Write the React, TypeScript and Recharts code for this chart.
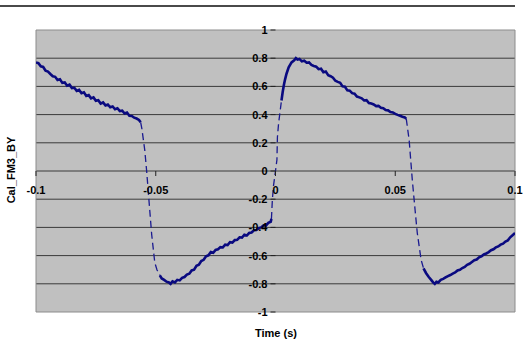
import React from "react";
import {
  LineChart,
  Line,
  XAxis,
  YAxis,
  CartesianGrid,
  ReferenceArea,
} from "recharts";

// ---- data (time in s, value) ----
const X_TICKS = [-0.1, -0.05, 0, 0.05, 0.1];
const X_TICK_LABELS = ["-0.1", "-0.05", "0", "0.05", "0.1"];
const Y_TICKS = [-1, -0.8, -0.6, -0.4, -0.2, 0, 0.2, 0.4, 0.6, 0.8, 1];
const Y_TICK_LABELS = ["-1", "-0.8", "-0.6", "-0.4", "-0.2", "0", "0.2", "0.4", "0.6", "0.8", "1"];
const GRID_VALUES = [-0.8, -0.6, -0.4, -0.2, 0, 0.2, 0.4, 0.6, 0.8];

const plateau1: [number, number][] = [
  [-0.1, 0.77], [-0.099, 0.765], [-0.098, 0.742], [-0.097, 0.738], [-0.096, 0.712],
  [-0.095, 0.705], [-0.094, 0.688], [-0.093, 0.672], [-0.092, 0.668], [-0.091, 0.645],
  [-0.09, 0.65], [-0.089, 0.625], [-0.088, 0.628], [-0.087, 0.605], [-0.086, 0.612],
  [-0.085, 0.588], [-0.084, 0.59], [-0.083, 0.568], [-0.082, 0.575], [-0.081, 0.552],
  [-0.08, 0.558], [-0.079, 0.532], [-0.078, 0.538], [-0.077, 0.515], [-0.076, 0.522],
  [-0.075, 0.498], [-0.074, 0.502], [-0.073, 0.478], [-0.072, 0.486], [-0.071, 0.465],
  [-0.07, 0.472], [-0.069, 0.452], [-0.068, 0.458], [-0.067, 0.438], [-0.066, 0.445],
  [-0.065, 0.425], [-0.064, 0.428], [-0.063, 0.408], [-0.062, 0.415], [-0.061, 0.392],
  [-0.06, 0.39], [-0.059, 0.378], [-0.058, 0.372], [-0.057, 0.362], [-0.0563, 0.345],
];
const fall1: [number, number][] = [
  [-0.0563, 0.345], [-0.0558, 0.3], [-0.0546, 0.15], [-0.0538, 0], [-0.0525, -0.28],
  [-0.0517, -0.45], [-0.0504, -0.65], [-0.0495, -0.7], [-0.0483, -0.74],
];
const trough1: [number, number][] = [
  [-0.0483, -0.74], [-0.0475, -0.762], [-0.0465, -0.772], [-0.0455, -0.785], [-0.0445, -0.79],
  [-0.0438, -0.8], [-0.043, -0.782], [-0.042, -0.79], [-0.041, -0.772], [-0.04, -0.776],
  [-0.039, -0.758], [-0.038, -0.752], [-0.037, -0.735], [-0.036, -0.728], [-0.035, -0.705],
  [-0.034, -0.7], [-0.033, -0.672], [-0.032, -0.665], [-0.031, -0.638], [-0.03, -0.63],
  [-0.029, -0.605], [-0.028, -0.598], [-0.027, -0.575], [-0.026, -0.58], [-0.025, -0.56],
  [-0.024, -0.555], [-0.023, -0.54], [-0.022, -0.542], [-0.021, -0.522], [-0.02, -0.525],
  [-0.019, -0.505], [-0.018, -0.508], [-0.017, -0.49], [-0.016, -0.488], [-0.015, -0.47],
  [-0.014, -0.472], [-0.013, -0.452], [-0.012, -0.458], [-0.011, -0.44], [-0.01, -0.436],
  [-0.009, -0.42], [-0.008, -0.418], [-0.007, -0.405], [-0.006, -0.4], [-0.005, -0.385],
  [-0.004, -0.388], [-0.003, -0.368], [-0.002, -0.36], [-0.0017, -0.34],
];
const rise1: [number, number][] = [
  [-0.0017, -0.34], [-0.0013, -0.2], [-0.0008, -0.1], [0, 0], [0.0006, 0.08],
  [0.0008, 0.24], [0.0013, 0.34], [0.0025, 0.5],
];
const plateau2: [number, number][] = [
  [0.0025, 0.5], [0.003, 0.56], [0.0035, 0.61], [0.004, 0.65], [0.0046, 0.69],
  [0.0055, 0.735], [0.0067, 0.77], [0.0078, 0.785], [0.0085, 0.8], [0.0092, 0.79],
  [0.01, 0.795], [0.011, 0.778], [0.012, 0.782], [0.013, 0.768], [0.014, 0.77],
  [0.015, 0.752], [0.016, 0.745], [0.017, 0.74], [0.018, 0.722], [0.019, 0.725],
  [0.02, 0.7], [0.021, 0.705], [0.022, 0.68], [0.023, 0.672], [0.024, 0.662],
  [0.025, 0.64], [0.026, 0.632], [0.027, 0.625], [0.028, 0.6], [0.029, 0.598],
  [0.03, 0.572], [0.031, 0.57], [0.032, 0.552], [0.033, 0.548], [0.034, 0.528],
  [0.035, 0.522], [0.036, 0.515], [0.037, 0.5], [0.038, 0.502], [0.039, 0.482],
  [0.04, 0.478], [0.041, 0.472], [0.042, 0.46], [0.043, 0.462], [0.044, 0.448],
  [0.045, 0.445], [0.046, 0.432], [0.047, 0.43], [0.048, 0.418], [0.049, 0.415],
  [0.05, 0.405], [0.051, 0.398], [0.052, 0.392], [0.053, 0.385], [0.054, 0.38],
  [0.0546, 0.37],
];
const fall2: [number, number][] = [
  [0.0546, 0.37], [0.0558, 0.22], [0.0571, -0.06], [0.0583, -0.28], [0.0592, -0.44],
  [0.0608, -0.63], [0.0618, -0.69],
];
const trough2: [number, number][] = [
  [0.0618, -0.69], [0.0629, -0.725], [0.064, -0.752], [0.065, -0.772], [0.0658, -0.79],
  [0.0665, -0.8], [0.0672, -0.785], [0.068, -0.79], [0.069, -0.772], [0.07, -0.765],
  [0.071, -0.755], [0.072, -0.745], [0.073, -0.738], [0.074, -0.728], [0.075, -0.72],
  [0.076, -0.705], [0.077, -0.7], [0.078, -0.688], [0.079, -0.68], [0.08, -0.665],
  [0.081, -0.658], [0.082, -0.645], [0.083, -0.632], [0.084, -0.628], [0.085, -0.612],
  [0.086, -0.605], [0.087, -0.592], [0.088, -0.585], [0.089, -0.575], [0.09, -0.562],
  [0.091, -0.555], [0.092, -0.542], [0.093, -0.535], [0.094, -0.522], [0.095, -0.515],
  [0.096, -0.5], [0.097, -0.492], [0.098, -0.47], [0.099, -0.455], [0.1, -0.44],
];

const toRows = (seg: [number, number][]) => seg.map(([t, v]) => ({ t, v }));

// ---- layout ----
const W = 525;
const H = 341;
const M = { top: 30, right: 10, bottom: 28, left: 35 };
const AXIS_W = 1;
const AXIS_H = 1;
const PLOT_LEFT = M.left + AXIS_W;
const PLOT_W = W - PLOT_LEFT - M.right;
const PLOT_H = H - M.top - M.bottom - AXIS_H;
const Y_ZERO = M.top + PLOT_H / 2;
const X_ZERO = PLOT_LEFT + PLOT_W / 2;
const FONT = "'Liberation Sans', Arial, sans-serif";
const LINE_COLOR = "#0a0a80";

const renderXTick = (props: any) => {
  const { x, payload, index } = props;
  const label = X_TICK_LABELS[index] ?? String(payload.value);
  return (
    <g key={"xt" + index}>
      <line x1={x} x2={x} y1={Y_ZERO} y2={Y_ZERO + 5} stroke="#222" strokeWidth={1} />
      <text
        x={x}
        y={Y_ZERO + 23}
        textAnchor="middle"
        fontFamily={FONT}
        fontSize={11}
        fontWeight="bold"
        fill="#000"
      >
        {label}
      </text>
    </g>
  );
};

const renderYTick = (props: any) => {
  const { y, payload, index } = props;
  const label = Y_TICK_LABELS[index] ?? String(payload.value);
  return (
    <g key={"yt" + index}>
      <line x1={X_ZERO - 5} x2={X_ZERO} y1={y} y2={y} stroke="#222" strokeWidth={1} />
      <text
        x={X_ZERO - 8}
        y={y + 4}
        textAnchor="end"
        fontFamily={FONT}
        fontSize={11}
        fontWeight="bold"
        fill="#000"
      >
        {label}
      </text>
    </g>
  );
};

export default function App() {
  return (
    <div style={{ position: "absolute", left: 0, top: 0, width: W, height: H, background: "#fff" }}>
      <div
        style={{ position: "absolute", left: 0, top: 5, width: 515, height: 2, background: "#4a4a4a" }}
      />
      <LineChart width={W} height={H} margin={M}>
        <CartesianGrid
          fill="#c0c0c0"
          fillOpacity={1}
          vertical={false}
          horizontalValues={GRID_VALUES}
          stroke="#3a3a3a"
          strokeWidth={1}
        />
        <ReferenceArea
          x1={-0.1}
          x2={0.1}
          y1={-1}
          y2={1}
          fill="none"
          stroke="#8c8c8c"
          strokeWidth={1}
          ifOverflow="visible"
        />
        <XAxis
          dataKey="t"
          type="number"
          domain={[-0.1, 0.1]}
          ticks={X_TICKS}
          allowDataOverflow
          height={AXIS_H}
          axisLine={false}
          tickLine={false}
          tick={renderXTick}
          interval={0}
        />
        <YAxis
          type="number"
          domain={[-1, 1]}
          ticks={Y_TICKS}
          allowDataOverflow
          width={AXIS_W}
          axisLine={false}
          tickLine={false}
          tick={renderYTick}
          interval={0}
        />
        {[plateau1, trough1, plateau2, trough2].map((seg, i) => (
          <Line
            key={"p" + i}
            data={toRows(seg)}
            dataKey="v"
            type="linear"
            stroke={LINE_COLOR}
            strokeWidth={2.6}
            dot={false}
            activeDot={false}
            isAnimationActive={false}
          />
        ))}
        {[fall1, rise1, fall2].map((seg, i) => (
          <Line
            key={"s" + i}
            data={toRows(seg)}
            dataKey="v"
            type="linear"
            stroke="#1a1a90"
            strokeWidth={1.3}
            strokeDasharray="7 4"
            dot={false}
            activeDot={false}
            isAnimationActive={false}
          />
        ))}
      </LineChart>
      <div
        style={{
          position: "absolute",
          left: 11,
          top: 170,
          transform: "translate(-50%, -50%) rotate(-90deg)",
          fontFamily: FONT,
          fontSize: 11,
          fontWeight: "bold",
          whiteSpace: "nowrap",
          color: "#000",
        }}
      >
        Cal_FM3_BY
      </div>
      <div
        style={{
          position: "absolute",
          left: 276,
          top: 333,
          transform: "translate(-50%, -50%)",
          fontFamily: FONT,
          fontSize: 11,
          fontWeight: "bold",
          whiteSpace: "nowrap",
          color: "#000",
        }}
      >
        Time (s)
      </div>
    </div>
  );
}
